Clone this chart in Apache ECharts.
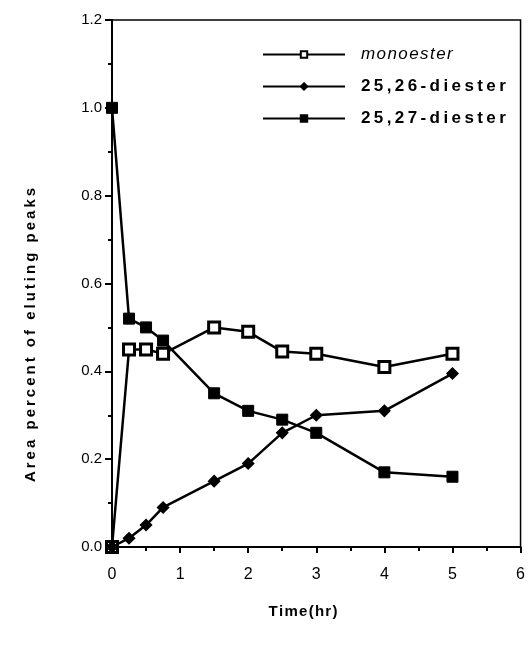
<!DOCTYPE html>
<html lang="en">
<head>
    <meta charset="UTF-8">
    <title>Area percent vs time</title>
    <script src="https://cdn.jsdelivr.net/npm/echarts@6/dist/echarts.min.js"></script>
    <style>
        body { margin: 0; background: #fff; }
    </style>
</head>
<body>
<div id="main" style="width: 528px;height:650px;"></div>
<script>
    // time points (hr)
    var times = [0, 0.25, 0.5, 0.75, 1.5, 2, 2.5, 3, 4, 5];
    // area percent of each species
    var monoester = [0, 0.45, 0.45, 0.44, 0.50, 0.49, 0.445, 0.44, 0.41, 0.44];
    var diester2526 = [0, 0.02, 0.05, 0.09, 0.15, 0.19, 0.26, 0.30, 0.31, 0.395];
    var diester2527 = [1.0, 0.52, 0.50, 0.47, 0.35, 0.31, 0.29, 0.26, 0.17, 0.16];
    var seriesNames = ['monoester', '25,26-diester', '25,27-diester'];

    function pairs(vals) {
        var out = [];
        for (var i = 0; i < times.length; i++) {
            out.push([times[i], vals[i]]);
        }
        return out;
    }
    // the scanned figure uses widely spaced lettering
    function spaced(s, sp) {
        return s.split('').join(sp);
    }

    var myChart = echarts.init(document.getElementById('main'));
    myChart.setOption({
        animation: false,
        textStyle: { fontFamily: 'Liberation Sans, Arial, sans-serif', color: '#000' },
        grid: {
            left: 112, right: 2, top: 20, bottom: 103,
            show: true, borderColor: '#000', borderWidth: 1.5
        },
        // axis titles sit off-centre in the original, so place them by hand
        graphic: [
            {
                type: 'text',
                x: 31, y: 335,
                rotation: Math.PI / 2,
                style: {
                    text: spaced('Area percent of eluting peaks', '\u2009'),
                    font: 'bold 15px Liberation Sans, Arial, sans-serif',
                    fill: '#000',
                    textAlign: 'center',
                    textVerticalAlign: 'middle'
                }
            },
            {
                type: 'text',
                x: 303, y: 612,
                style: {
                    text: spaced('Time(hr)', '\u200A'),
                    font: 'bold 15px Liberation Sans, Arial, sans-serif',
                    fill: '#000',
                    textAlign: 'center',
                    textVerticalAlign: 'middle'
                }
            }
        ],
        legend: {
            orient: 'vertical',
            left: 262, top: 46,
            padding: 0,
            itemWidth: 82, itemHeight: 8, itemGap: 15,
            formatter: function (name) {
                return spaced(name, name === 'monoester' ? '\u200A' : '\u2009');
            },
            textStyle: { fontSize: 17, fontWeight: 'bold', color: '#000', padding: [0, 0, 0, 11] },
            data: [
                { name: 'monoester', textStyle: { fontStyle: 'italic', fontWeight: 'normal' } },
                { name: '25,26-diester' },
                { name: '25,27-diester' }
            ]
        },
        xAxis: {
            type: 'value',
            min: 0, max: 6, interval: 1,
            axisLine: { lineStyle: { color: '#000', width: 2 } },
            axisTick: { inside: false, length: 6, lineStyle: { color: '#000', width: 2 } },
            minorTick: { show: true, splitNumber: 2, length: 4, lineStyle: { color: '#000', width: 2 } },
            axisLabel: { fontSize: 16, color: '#000', margin: 20 },
            splitLine: { show: false }
        },
        yAxis: {
            type: 'value',
            min: 0, max: 1.2, interval: 0.2,
            axisLine: { show: true, lineStyle: { color: '#000', width: 2 } },
            axisTick: { inside: false, length: 7, lineStyle: { color: '#000', width: 2 } },
            minorTick: { show: true, splitNumber: 2, length: 4, lineStyle: { color: '#000', width: 2 } },
            axisLabel: {
                fontSize: 15, color: '#000', margin: 10,
                formatter: function (v) { return v.toFixed(1); }
            },
            splitLine: { show: false }
        },
        series: [
            {
                name: seriesNames[0],
                type: 'line',
                data: pairs(monoester),
                symbol: 'rect',
                symbolSize: 11,
                lineStyle: { color: '#000', width: 2.5 },
                itemStyle: { color: '#fff', borderColor: '#000', borderWidth: 3 }
            },
            {
                name: seriesNames[1],
                type: 'line',
                data: pairs(diester2526),
                symbol: 'diamond',
                symbolSize: 11,
                lineStyle: { color: '#000', width: 2.5 },
                itemStyle: { color: '#000', borderColor: '#000', borderWidth: 1.5 }
            },
            {
                name: seriesNames[2],
                type: 'line',
                data: pairs(diester2527),
                symbol: 'rect',
                symbolSize: 11,
                lineStyle: { color: '#000', width: 2.5 },
                itemStyle: { color: '#000', borderColor: '#000', borderWidth: 1 }
            }
        ]
    });
</script>
</body>
</html>
